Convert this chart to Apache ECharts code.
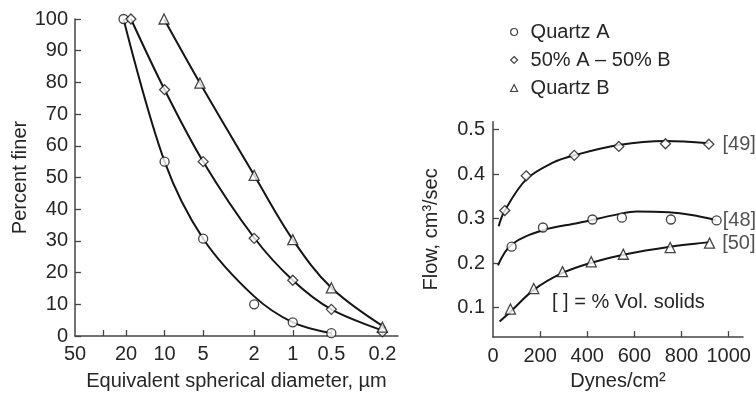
<!DOCTYPE html>
<html>
<head>
<meta charset="utf-8">
<script src="https://cdn.jsdelivr.net/npm/echarts@6/dist/echarts.min.js"></script>
<style>
html,body{margin:0;padding:0;background:#fff;}
#chart{width:756px;height:396px;}
</style>
</head>
<body>
<div id="chart"></div>
<script>
// ---------- Left panel: particle size distribution ----------
const seriesNames = ['Quartz A', '50% A \u2013 50% B', 'Quartz B'];

// markers (diameter in µm, percent finer)
const diamA  = [20.9, 10, 5, 2, 1, 0.5];
const pctA   = [100, 55, 30.7, 10, 4.3, 0.9];
const diamAB = [18.3, 10, 5, 2, 1, 0.5, 0.2];
const pctAB  = [100, 77.7, 55, 30.8, 17.6, 8.4, 1.3];
const diamB  = [10.1, 5.3, 2, 1, 0.5, 0.2];
const pctB   = [100, 79.8, 50.7, 30.4, 15.2, 2.8];

// fitted curves
const fitDiamA  = [20.9, 10, 5, 2, 1, 0.5];
const fitPctA   = [100, 55, 30.7, 12.5, 4.3, 0.9];
const fitDiamAB = [18.3, 10, 5, 2, 1, 0.5, 0.2];
const fitPctAB  = [100, 77.7, 55, 31, 17.6, 8.4, 1.8];
const fitDiamB  = [10.1, 5.3, 2, 1, 0.5, 0.19];
const fitPctB   = [100, 79.8, 50.7, 30.4, 15.2, 2.6];

const diamTicks  = [30, 20, 10, 5, 2, 1, 0.5, 0.2];
const diamLabels = [50, 20, 10, 5, 2, 1, 0.5, 0.2];
const pctTicks   = [0, 10, 20, 30, 40, 50, 60, 70, 80, 90, 100];

// ---------- Right panel: flow vs shear stress ----------
const press49 = [50, 141, 345, 534, 732, 916];
const flow49  = [0.318, 0.396, 0.442, 0.462, 0.468, 0.467];
const press48 = [79, 212, 422, 547, 755, 949];
const flow48  = [0.237, 0.28, 0.298, 0.302, 0.298, 0.296];
const press50 = [74, 173, 295, 417, 553, 752, 919];
const flow50  = [0.097, 0.143, 0.181, 0.203, 0.22, 0.235, 0.245];

const fitPress49 = [24, 50, 141, 252, 345, 534, 732, 916];
const fitFlow49  = [0.283, 0.318, 0.388, 0.425, 0.442, 0.465, 0.474, 0.469];
const fitPress48 = [21, 79, 212, 361, 534, 610, 746, 843, 945];
const fitFlow48  = [0.195, 0.242, 0.274, 0.29, 0.31, 0.316, 0.314, 0.308, 0.297];
const fitPress50 = [28, 74, 173, 295, 417, 553, 752, 919];
const fitFlow50  = [0.069, 0.091, 0.14, 0.178, 0.201, 0.219, 0.237, 0.247];

const solidsLabels = ['[49]', '[48]', '[50]'];
const pressTicks  = [200, 400, 600, 800, 1000];
const pressLabels = [0, 200, 400, 600, 800, 1000];
const flowTicks   = [0.1, 0.2, 0.3, 0.4, 0.5];

// ---------- build ----------
const FONT = '"Liberation Sans", Arial, sans-serif';
const TXT = '#262626';
const INK = '#151515';
const AX = '#444';
const FS = 20;

const lg = v => Math.log10(v);
const pairsLog = (xs, ys) => xs.map((x, i) => [lg(x), ys[i]]);
const pairs = (xs, ys) => xs.map((x, i) => [x, ys[i]]);
const fmtNum = v => String(Math.round(v * 1000) / 1000);

function curve(data, xi, yi) {
  return {
    type: 'line', xAxisIndex: xi, yAxisIndex: yi, data: data,
    smooth: 0.35, showSymbol: false, silent: true, z: 2,
    lineStyle: { color: INK, width: 2 }
  };
}
function markers(name, symbol, data, xi, yi, size) {
  return {
    type: 'scatter', name: name, xAxisIndex: xi, yAxisIndex: yi, data: data,
    symbol: symbol, symbolSize: size, z: 3,
    itemStyle: { color: '#fff', borderColor: INK, borderWidth: 1.3 }
  };
}
function withEndLabel(data, text, dist) {
  const d = data.slice();
  const last = d[d.length - 1];
  d[d.length - 1] = {
    value: last,
    label: { show: true, formatter: text, position: 'right', distance: dist,
             fontSize: FS, color: TXT, fontFamily: FONT }
  };
  return d;
}

const axisCommon = {
  axisLine: { show: true, onZero: false, lineStyle: { color: AX, width: 1.5 } },
  axisTick: { show: true, inside: true, length: 6, lineStyle: { color: AX, width: 1.3 } },
  splitLine: { show: false },
  nameTextStyle: { fontSize: FS, color: TXT, fontFamily: FONT },
  axisLabel: { fontSize: FS, color: TXT, fontFamily: FONT }
};

const option = {
  backgroundColor: '#fff',
  animation: false,
  textStyle: { fontFamily: FONT },
  grid: [
    { left: 75, top: 19, width: 323, height: 317.7 },
    { left: 493, top: 121.7, width: 250, height: 217.6 }
  ],
  legend: {
    orient: 'vertical', left: 505, top: 16,
    itemWidth: 7, itemHeight: 7, itemGap: 6,
    textStyle: { fontSize: 20, color: TXT, fontFamily: FONT, lineHeight: 22, padding: [0, 0, 0, 8] },
    selectedMode: false,
    data: [
      { name: seriesNames[0], icon: 'circle', itemStyle: { color: '#fff', borderColor: INK, borderWidth: 1.2 } },
      { name: seriesNames[1], icon: 'diamond', itemStyle: { color: '#fff', borderColor: INK, borderWidth: 1.2 } },
      { name: seriesNames[2], icon: 'triangle', itemStyle: { color: '#fff', borderColor: INK, borderWidth: 1.2 } }
    ]
  },
  xAxis: [
    Object.assign({}, axisCommon, {
      gridIndex: 0, type: 'value', inverse: true,
      min: lg(0.151), max: lg(50),
      name: 'Equivalent spherical diameter, \u00b5m', nameLocation: 'middle', nameGap: 35,
      axisTick: Object.assign({}, axisCommon.axisTick, { customValues: diamTicks.map(lg) }),
      axisLabel: Object.assign({}, axisCommon.axisLabel, {
        customValues: diamLabels.map(lg), margin: 8,
        formatter: v => fmtNum(Math.pow(10, v))
      })
    }),
    Object.assign({}, axisCommon, {
      gridIndex: 1, type: 'value', min: 0, max: 1061,
      name: 'Dynes/cm\u00b2', nameLocation: 'middle', nameGap: 23,
      axisTick: Object.assign({}, axisCommon.axisTick, { customValues: pressTicks }),
      axisLabel: Object.assign({}, axisCommon.axisLabel, {
        customValues: pressLabels, margin: 9, formatter: v => String(Math.round(v))
      })
    })
  ],
  yAxis: [
    Object.assign({}, axisCommon, {
      gridIndex: 0, type: 'value', min: 0, max: 100,
      name: 'Percent finer', nameLocation: 'middle', nameGap: 45,
      axisTick: Object.assign({}, axisCommon.axisTick, { customValues: pctTicks }),
      axisLabel: Object.assign({}, axisCommon.axisLabel, { customValues: pctTicks, margin: 7 })
    }),
    Object.assign({}, axisCommon, {
      gridIndex: 1, type: 'value', min: 0.034, max: 0.5175,
      name: 'Flow, cm\u00b3/sec', nameLocation: 'middle', nameGap: 52,
      axisTick: Object.assign({}, axisCommon.axisTick, { customValues: flowTicks }),
      axisLabel: Object.assign({}, axisCommon.axisLabel, {
        customValues: flowTicks, margin: 8, formatter: v => fmtNum(v)
      })
    })
  ],
  graphic: [{
    type: 'text', left: 552, top: 292, silent: true,
    style: { text: '[ ] = % Vol. solids', fontSize: FS, fill: TXT, fontFamily: FONT }
  }],
  series: [
    curve(pairsLog(fitDiamA, fitPctA), 0, 0),
    curve(pairsLog(fitDiamAB, fitPctAB), 0, 0),
    curve(pairsLog(fitDiamB, fitPctB), 0, 0),
    markers(seriesNames[0], 'circle', pairsLog(diamA, pctA), 0, 0, 9),
    markers(seriesNames[1], 'diamond', pairsLog(diamAB, pctAB), 0, 0, 10),
    markers(seriesNames[2], 'triangle', pairsLog(diamB, pctB), 0, 0, 10),

    curve(pairs(fitPress49, fitFlow49), 1, 1),
    curve(pairs(fitPress48, fitFlow48), 1, 1),
    curve(pairs(fitPress50, fitFlow50), 1, 1),
    markers(seriesNames[0], 'circle', withEndLabel(pairs(press48, flow48), solidsLabels[1], 1), 1, 1, 9),
    markers(seriesNames[1], 'diamond', withEndLabel(pairs(press49, flow49), solidsLabels[0], 8), 1, 1, 10),
    markers(seriesNames[2], 'triangle', withEndLabel(pairs(press50, flow50), solidsLabels[2], 7), 1, 1, 10)
  ]
};

const chart = echarts.init(document.getElementById('chart'), null, { renderer: 'canvas' });
chart.setOption(option);
</script>
</body>
</html>
